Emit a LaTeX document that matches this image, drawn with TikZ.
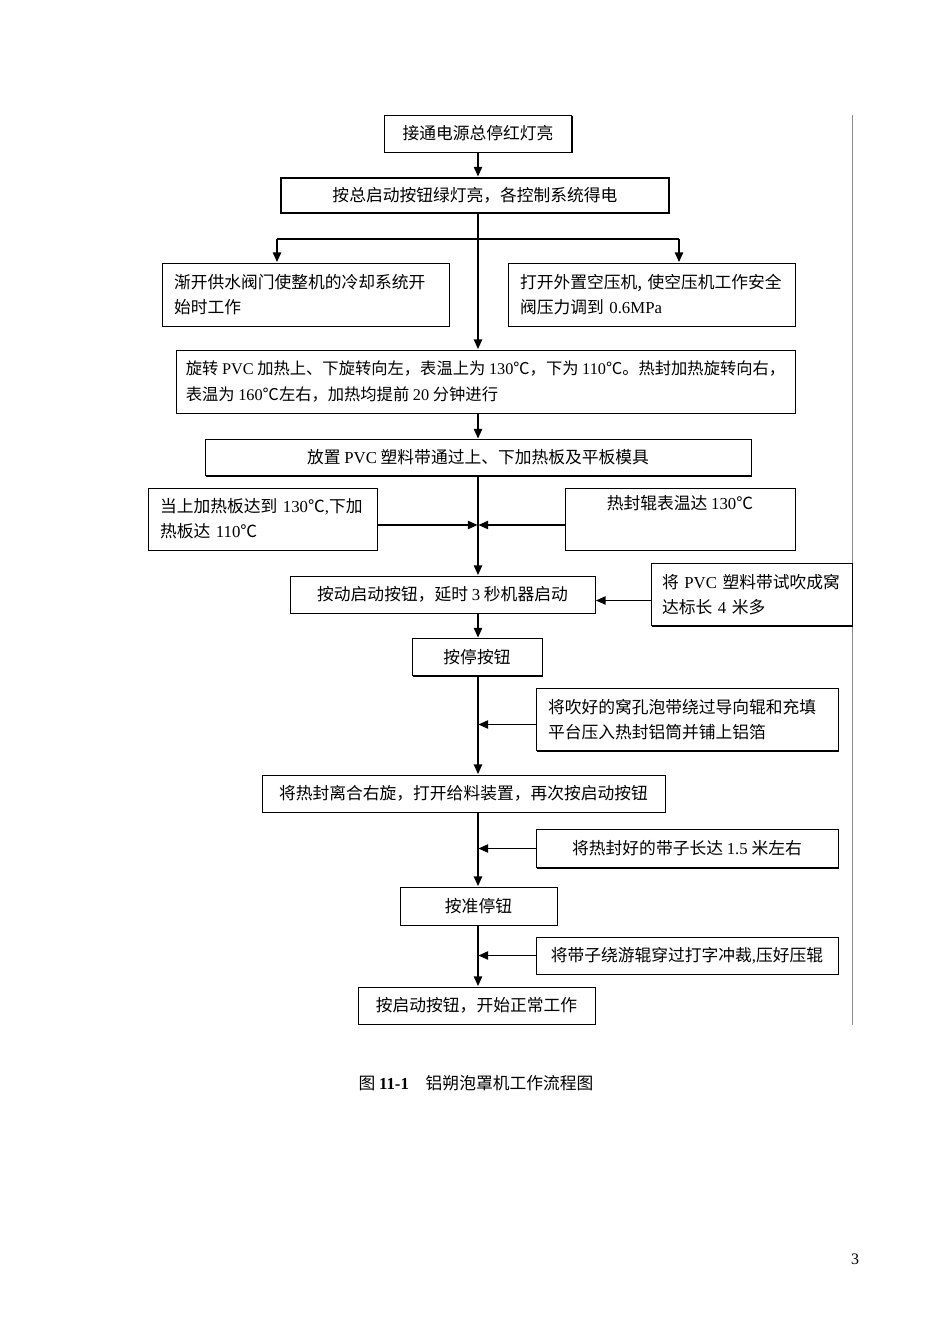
\documentclass[tikz,border=0pt]{standalone}
\usepackage{fontspec}
\setmainfont{Noto Sans CJK SC}
\newfontfamily\en{Liberation Serif}
\usetikzlibrary{arrows.meta,shadows}
\newdimen\pxu \pxu=0.6263pt
\newcommand\E[1]{{\en #1}}
\tikzset{
  box/.style={draw=black,fill=white,line width=0.6pt,align=center,inner sep=0pt,font=\fontsize{10.5}{15.7}\selectfont,
    drop shadow={shadow xshift=0.9pt,shadow yshift=-0.9pt,fill=black,opacity=1}},
  boldbox/.style={draw=black,fill=white,line width=1.3pt,align=center,inner sep=0pt,font=\fontsize{10.5}{15.7}\selectfont},
  textbox/.style={box,align=left,inner xsep=12\pxu,inner ysep=0pt},
  arr/.style={-{Triangle[length=6pt,width=5.2pt]},line width=0.8pt,shorten >=0.3pt},
  link/.style={line width=0.8pt}
}
\begin{document}
\begin{tikzpicture}[x=0.6263pt,y=-0.6263pt]
  \useasboundingbox[fill=white] (0,0) rectangle (950,1344);
  % page rule
  \draw[black!45,line width=0.5pt] (852,115) -- (852,1025);
  % main chain
  \node[box,minimum width=187\pxu,minimum height=37\pxu] (power) at (478,133.5) {接通电源总停红灯亮};
  \node[boldbox,minimum width=388\pxu,minimum height=35\pxu] (start) at (475,195.5) {按总启动按钮绿灯亮，各控制系统得电};
  \node[textbox,text width=263\pxu,minimum height=63\pxu] (cool) at (305.5,294.5) {渐开供水阀门使整机的冷却系统开\\始时工作};
  \node[textbox,text width=263\pxu,minimum height=63\pxu] (air) at (651.5,294.5) {打开外置空压机, 使空压机工作安全\\阀压力调到 \E{0.6MPa}};
  \node[box,align=left,minimum width=619\pxu,minimum height=63\pxu,font=\fontsize{10.2}{15.7}\selectfont] (heat) at (485.5,381.5)
    {旋转 \E{PVC} 加热上、下旋转向左，表温上为 \E{130}℃，下为 \E{110}℃。热封加热旋转向右，\\表温为 \E{160}℃左右，加热均提前 \E{20} 分钟进行};
  \node[box,minimum width=546\pxu,minimum height=36\pxu] (load) at (478,457.5) {放置 \E{PVC} 塑料带通过上、下加热板及平板模具};
  \node[textbox,text width=205\pxu,minimum height=62\pxu] (plate) at (262.5,519) {当上加热板达到 \E{130}℃\E{,}下加\\热板达 \E{110}℃};
  \node[box,minimum width=230\pxu,minimum height=62\pxu] (roll) at (680,519) {热封辊表温达 \E{130}℃\\\strut};
  \node[box,minimum width=305\pxu,minimum height=37\pxu] (run) at (442.5,594.5) {按动启动按钮，延时 \E{3} 秒机器启动};
  \node[textbox,inner xsep=11\pxu,text width=179\pxu,minimum height=62\pxu] (trial) at (751.5,594.5) {将 \E{PVC} 塑料带试吹成窝\\达标长 \E{4} 米多};
  \node[box,minimum width=130\pxu,minimum height=37\pxu] (stop) at (477,657) {按停按钮};
  \node[textbox,text width=278\pxu,minimum height=62\pxu] (feed) at (687,719.5) {将吹好的窝孔泡带绕过导向辊和充填\\平台压入热封铝筒并铺上铝箔};
  \node[box,minimum width=403\pxu,minimum height=37\pxu] (seal) at (463.5,793.5) {将热封离合右旋，打开给料装置，再次按启动按钮};
  \node[box,minimum width=302\pxu,minimum height=38\pxu] (len) at (687,848.5) {将热封好的带子长达 \E{1.5} 米左右};
  \node[box,minimum width=157\pxu,minimum height=38\pxu] (halt) at (478.5,906) {按准停钮};
  \node[box,minimum width=302\pxu,minimum height=37\pxu] (punch) at (687,955.5) {将带子绕游辊穿过打字冲裁\E{,}压好压辊};
  \node[box,minimum width=237\pxu,minimum height=37\pxu] (work) at (476.5,1005.5) {按启动按钮，开始正常工作};
  % caption and page number
  \node[font=\fontsize{10.5}{12}\selectfont] (cap) at (476,1083) {图\ \E{\bfseries 11-1}\quad 铝朔泡罩机工作流程图};
  \node[font=\fontsize{10}{12}\selectfont] (pg) at (855,1259) {\E{3}};
  % connectors
  \draw[arr] (power) -- (power |- start.north);
  \draw[arr] (power |- start.south) -- (power |- heat.north);
  \coordinate (forkl) at (277,239);
  \coordinate (forkr) at (679,239);
  \draw[link] (forkl) -- (forkr);
  \draw[arr] (forkl) -- (forkl |- cool.north);
  \draw[arr] (forkr) -- (forkr |- air.north);
  \draw[arr] (power |- heat.south) -- (power |- load.north);
  \draw[arr] (power |- load.south) -- (power |- run.north);
  \draw[arr] ([yshift=-6\pxu]plate.east) -- ([yshift=-6\pxu]plate.east -| power);
  \draw[arr] ([yshift=-6\pxu]roll.west) -- ([yshift=-6\pxu]roll.west -| power);
  \draw[arr] ([yshift=-6\pxu]trial.west) -- ([yshift=-6\pxu]trial.west -| run.east);
  \draw[arr] (power |- run.south) -- (power |- stop.north);
  \draw[arr] (power |- stop.south) -- (power |- seal.north);
  \draw[arr] ([yshift=-5\pxu]feed.west) -- ([yshift=-5\pxu]feed.west -| power);
  \draw[arr] (power |- seal.south) -- (power |- halt.north);
  \draw[arr] (len.west) -- (len.west -| power);
  \draw[arr] (power |- halt.south) -- (power |- work.north);
  \draw[arr] (punch.west) -- (punch.west -| power);
\end{tikzpicture}
\end{document}
